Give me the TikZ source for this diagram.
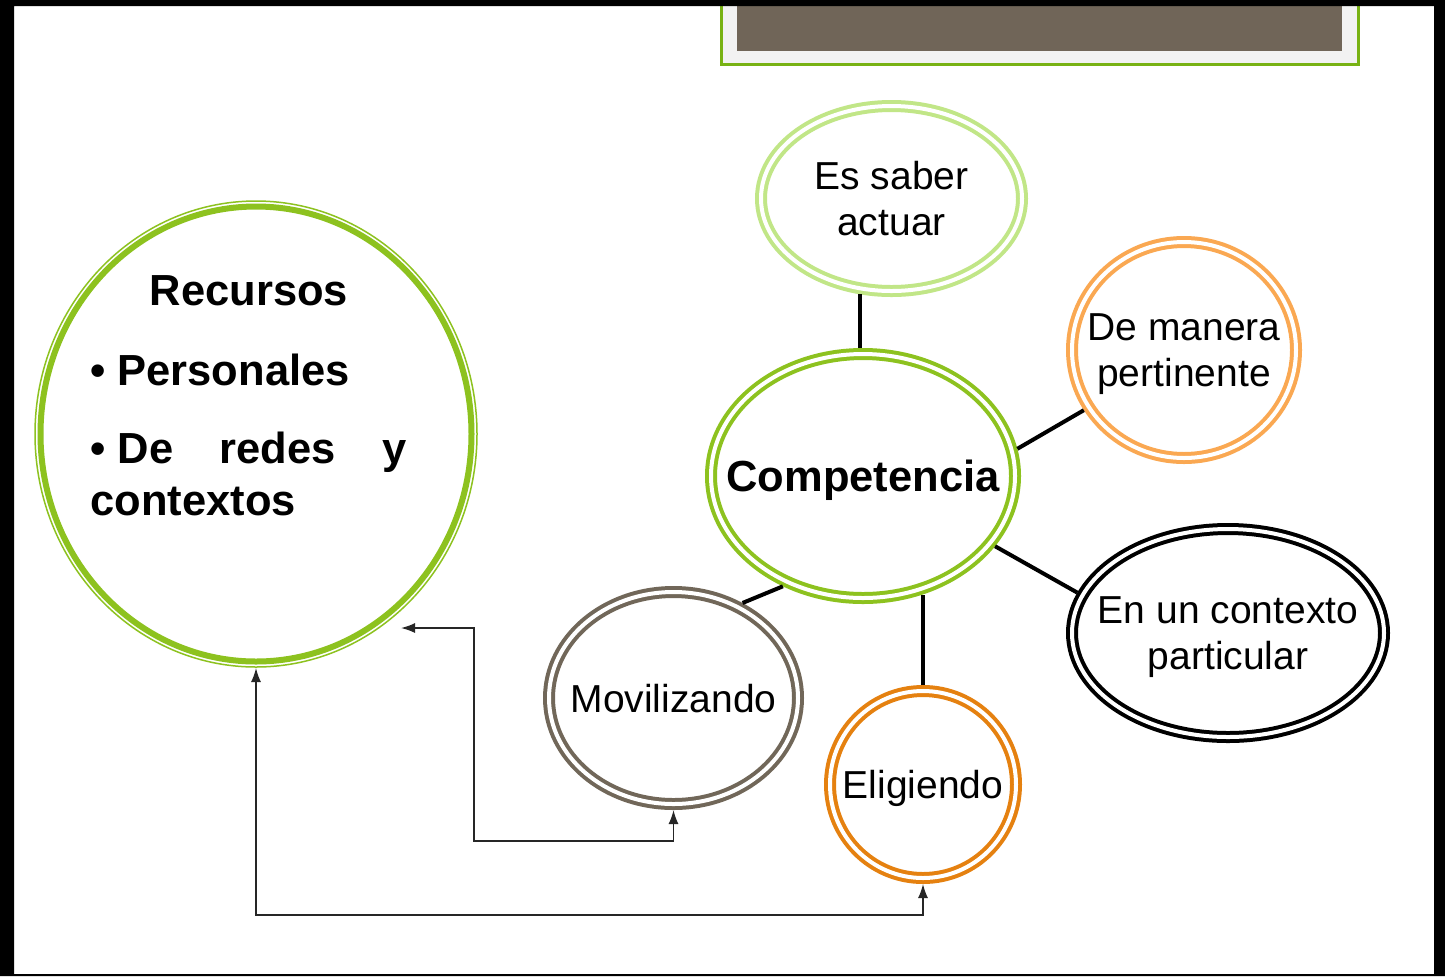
\documentclass[tikz,border=0pt]{standalone}
\usepackage{fontspec}
\setmainfont{Liberation Sans}
\usetikzlibrary{arrows.meta,shapes.geometric,calc}

\definecolor{compgreen}{RGB}{141,194,31}
\definecolor{lightgreen}{RGB}{193,230,135}
\definecolor{lightorange}{RGB}{250,168,82}
\definecolor{darkorange}{RGB}{229,129,16}
\definecolor{stonegray}{RGB}{113,103,89}
\definecolor{titlebrown}{RGB}{112,101,88}
\definecolor{framegreen}{RGB}{120,178,20}

\begin{document}
\begin{tikzpicture}[x=0.5pt, y=-0.5pt,
  bubble/.style={ellipse, draw=#1, double=white, double distance=2pt,
    line width=2pt, outer sep=3pt, inner xsep=-20pt, inner ysep=-10pt,
    text depth=0pt, align=center, font=\fontsize{19.5}{23}\selectfont},
  rectxt/.style={inner sep=0pt, font=\bfseries\fontsize{21.75}{26}\selectfont},
  spoke/.style={line width=2pt, black},
  flow/.style={{Latex[length=7pt,width=5pt]}-{Latex[length=7pt,width=5pt]},
    line width=0.75pt, black!85}]
\useasboundingbox (0,0) rectangle (1445,976);
\fill[white] (0,0) rectangle (1445,976);

% title box
\filldraw[fill=black!5, draw=framegreen, line width=1.5pt] (721,3) rectangle (1358,64);
\fill[titlebrown] (737,3) rectangle (1342,51);

% recursos
\node[ellipse, draw=compgreen, line width=3pt, minimum width=215.5pt,
  minimum height=227.5pt, outer sep=3.25pt] (rec) at (256,434) {};
\draw[compgreen, line width=0.75pt] (rec.center) ellipse [x radius=110.5pt, y radius=116.5pt];
\node[rectxt, anchor=base] (rechead) at (249,305) {Recursos};
\node[rectxt, anchor=base west] (recper) at (90,385) {•\ Personales};
\node[rectxt, anchor=base west] (recred) at (90,463) {\makebox[158pt][l]{•\ De\hfill redes\hfill y}};
\node[rectxt, anchor=base west] (recctx) at (90,515) {contextos};

% bubbles
\node[bubble=lightgreen, minimum width=130.5pt, minimum height=92.5pt] (es) at (891.5,198.5) {Es saber\\actuar};
\node[bubble=lightorange, minimum width=112pt, minimum height=108pt] (dm) at (1184,350) {De manera\\pertinente};
\node[bubble=compgreen, minimum width=152pt, minimum height=122pt,
  font=\bfseries\fontsize{21.75}{26}\selectfont] (comp) at (863,476) {Competencia};
\node[bubble=black, minimum width=156pt, minimum height=104pt] (ctx) at (1228,633) {En un contexto\\particular};
\node[bubble=stonegray, minimum width=124.5pt, minimum height=106pt] (mov) at (673.5,698) {Movilizando};
\node[bubble=darkorange, minimum width=93pt, minimum height=93.5pt] (elig) at (923,784.5) {Eligiendo};

% spokes
\draw[spoke] (es.252) -- (es.252 |- comp.north);
\draw[spoke] (comp.10) -- (dm.211);
\draw[spoke] (comp.332) -- (ctx.165);
\draw[spoke] (comp.234) -- (mov.54);
\draw[spoke] (elig.north) -- (elig.north |- comp.296);

% arrows
\coordinate (recpt) at (401,628);
\draw[flow] (recpt) -- ++(73,0) |- ($(mov.south)+(0,31)$) -- (mov.south);
\draw[flow] (rec.south) |- ($(elig.south)+(0,31)$) -- (elig.south);

% frame
\fill[black, even odd rule] (0,0) rectangle (1445,976) (14,6) rectangle (1434,974);
\end{tikzpicture}
\end{document}
